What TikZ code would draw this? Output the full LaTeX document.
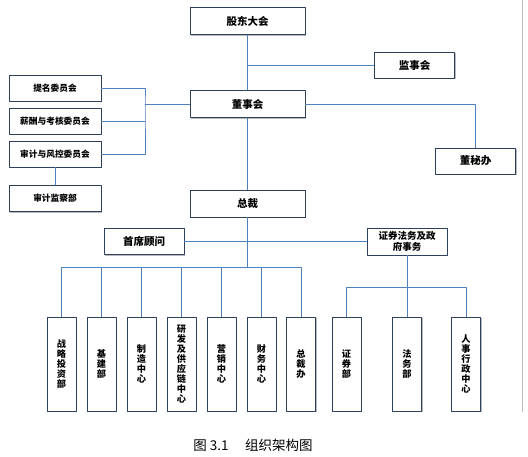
\documentclass[tikz,border=0pt]{standalone}
\usepackage{fontspec}
\newfontfamily\cjk{Noto Sans CJK SC}
\usetikzlibrary{shadows}
\definecolor{linecol}{RGB}{79,129,189}
\definecolor{boxcol}{RGB}{45,65,95}
\begin{document}
\begin{tikzpicture}[x=1pt,y=-1pt,line join=round,line cap=round]
            \tikzset{box/.style={draw=boxcol,fill=white,line width=0.9pt,inner sep=0pt,
                drop shadow={shadow xshift=1.3pt,shadow yshift=-1.3pt,fill=black!55},
                font=\cjk\bfseries\fontsize{10.5}{12}\selectfont},
                wide/.style={box,minimum width=115,minimum height=27},
                mid/.style={box,minimum width=80,minimum height=26},
                comm/.style={box,minimum width=92,minimum height=26,font=\cjk\bfseries\fontsize{8.7}{10}\selectfont},
                tall/.style={box,minimum width=29,minimum height=94,align=center,font=\cjk\bfseries\fontsize{9.2}{10}\selectfont},
                conn/.style={draw=linecol,line width=0.9pt}}
            \useasboundingbox (0,0) rectangle (528,457);
            \draw[black!25,line width=0.6pt] (522,0)--(522,412);
            % top line
            \node[wide] (gudong) at (247.5,21) {股东大会};
            \node[wide] (dongshi) at (247.5,104) {董事会};
            \node[wide] (zongcai) at (247.5,203.5) {总裁};
            \node[mid] (jianshi) at (414.5,65) {监事会};
            \node[mid] (dongmi) at (475.5,161) {董秘办};
            % committees
            \node[comm] (timing) at (55,88) {提名委员会};
            \node[comm] (xinchou) at (55,121) {薪酬与考核委员会};
            \node[comm] (shenji) at (55,154) {审计与风控委员会};
            \node[comm] (jiancha) at (55,198.5) {审计监察部};
            \node[mid] (guwen) at (144,241.5) {首席顾问};
            \node[mid,minimum height=27,align=center,font=\cjk\bfseries\fontsize{9.5}{11.5}\selectfont] (zhengquan) at (407,241.5) {证券法务及政\\府事务};
            % departments
            \node[tall] (zhanlue) at (61.5,364) {战\\略\\投\\资\\部};
            \node[tall] (jijian) at (101.5,364) {基\\建\\部};
            \node[tall] (zhizao) at (141.5,364) {制\\造\\中\\心};
            \node[tall] (yanfa) at (181.5,364) {研\\发\\及\\供\\应\\链\\中\\心};
            \node[tall] (yingxiao) at (221.5,364) {营\\销\\中\\心};
            \node[tall] (caiwu) at (261.5,364) {财\\务\\中\\心};
            \node[tall] (zongcaiban) at (301,364) {总\\裁\\办};
            \node[tall] (zhengquanbu) at (346.5,364) {证\\券\\部};
            \node[tall] (fawu) at (407,364) {法\\务\\部};
            \node[tall] (renshi) at (466,364) {人\\事\\行\\政\\中\\心};
            % connectors
            \coordinate (cbus) at (145,104);
            \coordinate (bus) at (247.5,267);
            \coordinate (rbus) at (407,287);
            \draw[conn] (gudong.south)--(dongshi.north);
            \draw[conn] (dongshi.south)--(zongcai.north);
            \draw[conn] (gudong.south |- jianshi)--(jianshi.west);
            \draw[conn] (dongshi.east)-|(dongmi.north);
            \draw[conn] (dongshi.west)--(cbus);
            \draw[conn] (timing.east)-|(cbus)|-(shenji.east);
            \draw[conn] (xinchou.east)--(xinchou.east -| cbus);
            \draw[conn] (shenji.south)--(jiancha.north);
            \draw[conn] (guwen.east)--(zhengquan.west);
            \draw[conn] (zongcai.south)--(bus);
            \foreach \n in {zhanlue,jijian,zhizao,yanfa,yingxiao,caiwu,zongcaiban}
                \draw[conn] (\n.north)|-(bus);
            \draw[conn] (zhengquan.south)--(fawu.north);
            \foreach \n in {zhengquanbu,renshi}
                \draw[conn] (\n.north)|-(rbus);
            \node[font=\cjk\fontsize{13.5}{15}\selectfont] (caption) at (253,445) {图 3.1\quad\ 组织架构图};
        \end{tikzpicture}
\end{document}
